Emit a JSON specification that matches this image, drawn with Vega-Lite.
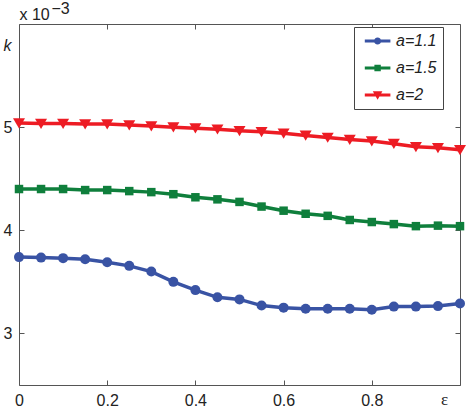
{
  "$schema": "https://vega.github.io/schema/vega-lite/v6.json",
  "autosize": "none",
  "width": 441,
  "height": 361,
  "padding": {"left": 19, "top": 24, "right": 8, "bottom": 22},
  "config": {
    "view": {"stroke": "#555", "strokeWidth": 1},
    "font": "Liberation Sans",
    "axis": {
      "domain": false,
      "grid": false,
      "tickSize": -5,
      "tickColor": "#555",
      "labelFont": "Liberation Sans",
      "labelFontSize": 16,
      "labelColor": "#222",
      "titleFont": "Liberation Sans",
      "titleFontSize": 16,
      "titleFontWeight": "normal",
      "titleColor": "#222"
    }
  },
  "data": {
    "values": [
      {"e": 0, "k": 3.74, "s": "a=1.1"},
      {"e": 0.05, "k": 3.735, "s": "a=1.1"},
      {"e": 0.1, "k": 3.73, "s": "a=1.1"},
      {"e": 0.15, "k": 3.72, "s": "a=1.1"},
      {"e": 0.2, "k": 3.69, "s": "a=1.1"},
      {"e": 0.25, "k": 3.655, "s": "a=1.1"},
      {"e": 0.3, "k": 3.6, "s": "a=1.1"},
      {"e": 0.35, "k": 3.5, "s": "a=1.1"},
      {"e": 0.4, "k": 3.42, "s": "a=1.1"},
      {"e": 0.45, "k": 3.35, "s": "a=1.1"},
      {"e": 0.5, "k": 3.33, "s": "a=1.1"},
      {"e": 0.55, "k": 3.27, "s": "a=1.1"},
      {"e": 0.6, "k": 3.25, "s": "a=1.1"},
      {"e": 0.65, "k": 3.24, "s": "a=1.1"},
      {"e": 0.7, "k": 3.24, "s": "a=1.1"},
      {"e": 0.75, "k": 3.24, "s": "a=1.1"},
      {"e": 0.8, "k": 3.23, "s": "a=1.1"},
      {"e": 0.85, "k": 3.26, "s": "a=1.1"},
      {"e": 0.9, "k": 3.26, "s": "a=1.1"},
      {"e": 0.95, "k": 3.265, "s": "a=1.1"},
      {"e": 1, "k": 3.29, "s": "a=1.1"},
      {"e": 0, "k": 4.4, "s": "a=1.5"},
      {"e": 0.05, "k": 4.4, "s": "a=1.5"},
      {"e": 0.1, "k": 4.4, "s": "a=1.5"},
      {"e": 0.15, "k": 4.39, "s": "a=1.5"},
      {"e": 0.2, "k": 4.39, "s": "a=1.5"},
      {"e": 0.25, "k": 4.38, "s": "a=1.5"},
      {"e": 0.3, "k": 4.37, "s": "a=1.5"},
      {"e": 0.35, "k": 4.35, "s": "a=1.5"},
      {"e": 0.4, "k": 4.32, "s": "a=1.5"},
      {"e": 0.45, "k": 4.3, "s": "a=1.5"},
      {"e": 0.5, "k": 4.275, "s": "a=1.5"},
      {"e": 0.55, "k": 4.23, "s": "a=1.5"},
      {"e": 0.6, "k": 4.19, "s": "a=1.5"},
      {"e": 0.65, "k": 4.16, "s": "a=1.5"},
      {"e": 0.7, "k": 4.14, "s": "a=1.5"},
      {"e": 0.75, "k": 4.1, "s": "a=1.5"},
      {"e": 0.8, "k": 4.08, "s": "a=1.5"},
      {"e": 0.85, "k": 4.06, "s": "a=1.5"},
      {"e": 0.9, "k": 4.04, "s": "a=1.5"},
      {"e": 0.95, "k": 4.045, "s": "a=1.5"},
      {"e": 1, "k": 4.04, "s": "a=1.5"},
      {"e": 0, "k": 5.04, "s": "a=2"},
      {"e": 0.05, "k": 5.035, "s": "a=2"},
      {"e": 0.1, "k": 5.035, "s": "a=2"},
      {"e": 0.15, "k": 5.03, "s": "a=2"},
      {"e": 0.2, "k": 5.03, "s": "a=2"},
      {"e": 0.25, "k": 5.02, "s": "a=2"},
      {"e": 0.3, "k": 5.01, "s": "a=2"},
      {"e": 0.35, "k": 5.0, "s": "a=2"},
      {"e": 0.4, "k": 4.99, "s": "a=2"},
      {"e": 0.45, "k": 4.98, "s": "a=2"},
      {"e": 0.5, "k": 4.965, "s": "a=2"},
      {"e": 0.55, "k": 4.955, "s": "a=2"},
      {"e": 0.6, "k": 4.94, "s": "a=2"},
      {"e": 0.65, "k": 4.92, "s": "a=2"},
      {"e": 0.7, "k": 4.9, "s": "a=2"},
      {"e": 0.75, "k": 4.88, "s": "a=2"},
      {"e": 0.8, "k": 4.865, "s": "a=2"},
      {"e": 0.85, "k": 4.84, "s": "a=2"},
      {"e": 0.9, "k": 4.81, "s": "a=2"},
      {"e": 0.95, "k": 4.8, "s": "a=2"},
      {"e": 1, "k": 4.78, "s": "a=2"}
    ]
  },
  "resolve": {"axis": {"x": "independent", "y": "independent"}},
  "layer": [
    {
      "transform": [{"filter": "datum.e > 2"}],
      "mark": {"type": "point", "filled": true, "opacity": 1, "strokeWidth": 0},
      "encoding": {
        "x": {"field": "e", "type": "quantitative", "scale": {"domain": [0, 1], "nice": false}, "axis": null},
        "y": {"field": "k", "type": "quantitative", "scale": {"domain": [2.5, 6], "nice": false, "zero": false}, "axis": null},
        "color": {
          "field": "s", "type": "nominal",
          "scale": {"domain": ["a=1.1", "a=1.5", "a=2"], "range": ["#3953a4", "#0f7f3c", "#ed1c24"]},
          "legend": {
            "orient": "none",
            "legendX": 335,
            "legendY": 3,
            "title": null,
            "padding": 6,
            "fillColor": "white",
            "strokeColor": "#444",
            "symbolSize": 64,
            "symbolStrokeWidth": 0,
            "symbolOpacity": 1,
            "labelOffset": 20,
            "labelFont": "Liberation Sans",
            "labelFontSize": 16,
            "labelFontStyle": "italic",
            "labelColor": "#222",
            "labelExpr": "datum.label + '\u00a0\u00a0'",
            "rowPadding": 11
          }
        },
        "shape": {
          "field": "s", "type": "nominal",
          "scale": {
            "domain": ["a=1.1", "a=1.5", "a=2"],
            "range": [
              "M-0.8,-0.4H5.6V0.4H-0.8Z M3.3,0A0.9,0.9,0,1,1,1.5,0A0.9,0.9,0,1,1,3.3,0Z",
              "M-0.8,-0.4H5.6V0.4H-0.8Z M1.6,-0.8H3.2V0.8H1.6Z",
              "M-0.8,-0.4H5.6V0.4H-0.8Z M1.2,-0.95H3.6L2.4,1.2Z"
            ]
          }
        },
        "size": {"value": 64}
      }
    },
    {
      "mark": {"type": "line", "strokeWidth": 3.5},
      "encoding": {
        "x": {
          "field": "e", "type": "quantitative",
          "axis": {
            "orient": "bottom",
            "values": [0, 0.2, 0.4, 0.6, 0.8, 1],
            "labelExpr": "datum.value == 1 ? '' : '' + datum.value",
            "labelPadding": 12,
            "labelFlush": false,
            "title": "ε",
            "titleFont": "Liberation Serif",
            "titleFontSize": 17,
            "titleX": 425,
            "titleY": 19,
            "titleBaseline": "alphabetic",
            "titleAlign": "center",
            "titleAnchor": null
          }
        },
        "y": {
          "field": "k", "type": "quantitative",
          "axis": {
            "orient": "left",
            "values": [3, 4, 5],
            "labelPadding": 12,
            "title": "k",
            "titleFontStyle": "italic",
            "titleAngle": 0,
            "titleX": -12,
            "titleY": 21,
            "titleBaseline": "middle",
            "titleAlign": "center",
            "titleAnchor": null
          }
        },
        "color": {"field": "s", "type": "nominal"},
        "detail": {"field": "s"}
      }
    },
    {
      "transform": [{"filter": "datum.s == 'a=1.1'"}],
      "mark": {"type": "point", "filled": true, "opacity": 1, "strokeWidth": 0, "shape": "circle", "size": 100, "color": "#3953a4"},
      "encoding": {
        "x": {
          "field": "e", "type": "quantitative",
          "axis": {
            "orient": "top",
            "values": [0, 0.2, 0.4, 0.6, 0.8, 1],
            "labels": false,
            "title": "x 10",
            "titleX": 0,
            "titleY": -5,
            "titleAlign": "left",
            "titleBaseline": "alphabetic",
            "titleAnchor": null
          }
        },
        "y": {
          "field": "k", "type": "quantitative",
          "axis": {
            "orient": "right",
            "values": [3, 4, 5],
            "labels": false,
            "title": "−3",
            "titleAngle": 0,
            "titleX": -409,
            "titleY": -11,
            "titleAlign": "left",
            "titleBaseline": "alphabetic",
            "titleAnchor": null
          }
        }
      }
    },
    {
      "transform": [{"filter": "datum.s == 'a=1.5'"}],
      "mark": {"type": "point", "filled": true, "opacity": 1, "strokeWidth": 0, "shape": "square", "size": 72, "color": "#0f7f3c"},
      "encoding": {
        "x": {"field": "e", "type": "quantitative", "axis": null},
        "y": {"field": "k", "type": "quantitative", "axis": null}
      }
    },
    {
      "transform": [{"filter": "datum.s == 'a=2'"}],
      "mark": {"type": "point", "filled": true, "opacity": 1, "strokeWidth": 0, "shape": "M-1,-0.8L1,-0.8L0,0.9Z", "size": 144, "color": "#ed1c24"},
      "encoding": {
        "x": {"field": "e", "type": "quantitative", "axis": null},
        "y": {"field": "k", "type": "quantitative", "axis": null}
      }
    }
  ]
}
